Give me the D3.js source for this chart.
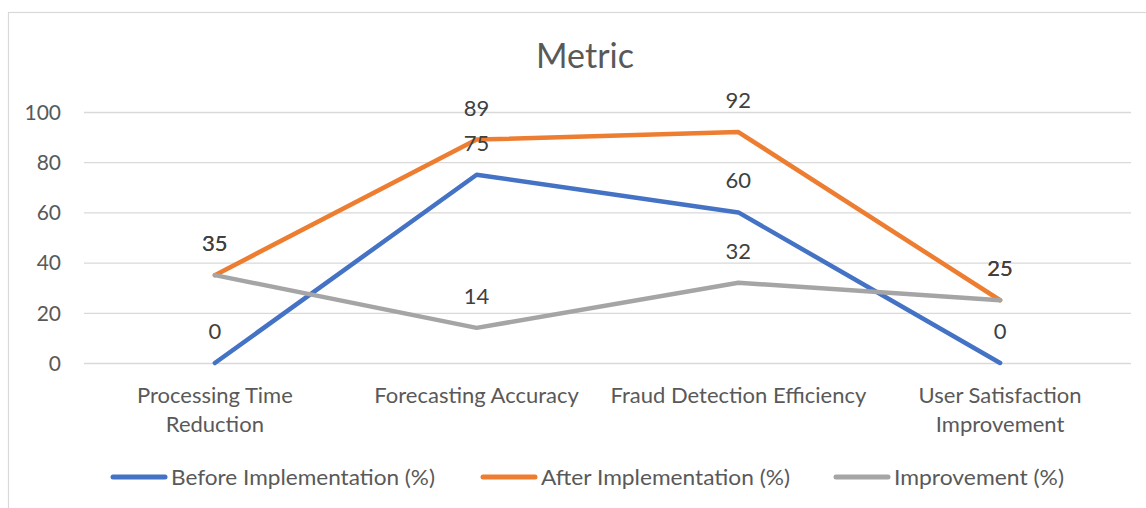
<!DOCTYPE html>
<html><head><meta charset="utf-8">
<script src="https://cdn.jsdelivr.net/npm/d3@7"></script>
<style>
html,body{margin:0;padding:0;background:#fff;}
svg{display:block;font-family:Lato,"Open Sans",sans-serif;}
</style></head>
<body>
<script>
const categories = [["Processing Time","Reduction"],["Forecasting Accuracy"],["Fraud Detection Efficiency"],["User Satisfaction","Improvement"]];
const before = [0, 75, 60, 0];
const after = [35, 89, 92, 25];
const improvement = [35, 14, 32, 25];
const yTicks = [0, 20, 40, 60, 80, 100];
const seriesNames = ["Before Implementation (%)", "After Implementation (%)", "Improvement (%)"];
const seriesColors = ["#4472C4", "#ED7D31", "#A5A5A5"];
const series = [before, after, improvement];

const W = 1146, H = 508;
const svg = d3.select("body").append("svg").attr("width", W).attr("height", H);

// chart border
svg.append("rect").attr("x", 8.5).attr("y", 12.5).attr("width", W + 20).attr("height", H + 20)
  .attr("fill", "none").attr("stroke", "#D9D9D9").attr("stroke-width", 1.2);

const plot = {left: 84, right: 1131, top: 112, bottom: 363};
const x = d3.scaleBand().domain(d3.range(categories.length)).range([plot.left, plot.right]);
const y = d3.scaleLinear().domain([0, 100]).range([plot.bottom, plot.top]);
const cx = i => x(i) + x.bandwidth() / 2;

// title
svg.append("text").attr("x", 585).attr("y", 68).attr("text-anchor", "middle")
  .attr("font-size", 34).attr("fill", "#595959").text("Metric");

// gridlines and y-axis
const yAxis = d3.axisLeft(y).tickValues(yTicks).tickSize(-(plot.right - plot.left)).tickPadding(23);
const gy = svg.append("g").attr("transform", `translate(${plot.left},0)`).call(yAxis);
gy.select(".domain").remove();
gy.selectAll(".tick line").attr("stroke", "#D9D9D9").attr("stroke-width", 1.3);
gy.selectAll(".tick text").attr("fill", "#595959").attr("font-size", 21)
  .attr("font-family", "Lato,'Open Sans',sans-serif").attr("dy", "0.35em");

// category labels
const gx = svg.append("g");
categories.forEach((lines, i) => {
  const t = gx.append("text").attr("x", cx(i)).attr("y", 403).attr("text-anchor", "middle")
    .attr("font-size", 22).attr("fill", "#595959");
  lines.forEach((ln, j) => {
    t.append("tspan").attr("x", cx(i)).attr("dy", j === 0 ? 0 : 29).text(ln);
  });
});

// lines
const line = d3.line().x((d, i) => cx(i)).y(d => y(d));
series.forEach((s, k) => {
  svg.append("path").datum(s).attr("d", line).attr("fill", "none")
    .attr("stroke", seriesColors[k]).attr("stroke-width", 4.5)
    .attr("stroke-linecap", "round").attr("stroke-linejoin", "round");
});

// data labels
series.forEach((s, k) => {
  svg.append("g").selectAll("text").data(s).join("text")
    .attr("x", (d, i) => cx(i)).attr("y", d => y(d) - 24)
    .attr("text-anchor", "middle").attr("font-size", 22).attr("fill", "#404040")
    .text(d => d);
});

// legend
const legendX = [113, 483, 836];
const legendW = [264, 249, 170];
series.forEach((s, k) => {
  const g = svg.append("g").attr("transform", `translate(${legendX[k]},477)`);
  g.append("line").attr("x1", 0).attr("x2", 52).attr("y1", 0).attr("y2", 0)
    .attr("stroke", seriesColors[k]).attr("stroke-width", 5).attr("stroke-linecap", "round");
  g.append("text").attr("x", 58).attr("y", 0).attr("dy", "0.35em")
    .attr("font-size", 22).attr("fill", "#595959")
    .attr("textLength", legendW[k]).attr("lengthAdjust", "spacingAndGlyphs")
    .text(seriesNames[k]);
});
</script>
</body></html>
